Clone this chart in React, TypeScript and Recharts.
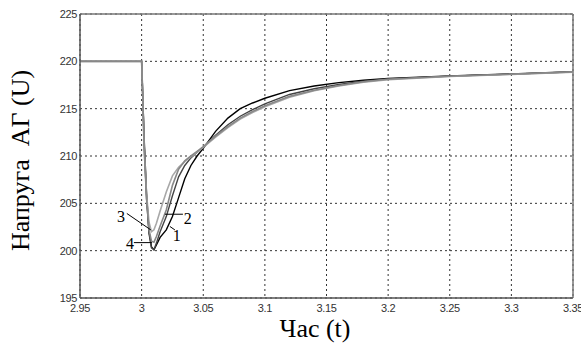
import React from 'react';
import { LineChart, Line, XAxis, YAxis, CartesianGrid, ReferenceLine, ReferenceDot } from 'recharts';

const times = [2.95, 3.0, 3.001, 3.002, 3.004, 3.006, 3.008, 3.01, 3.012, 3.015, 3.02, 3.025, 3.03, 3.035, 3.04, 3.045, 3.05, 3.06, 3.07, 3.08, 3.09, 3.1, 3.12, 3.14, 3.16, 3.18, 3.2, 3.25, 3.3, 3.35];
const curve1 = [220, 220, 216, 212, 206, 202, 200.4, 200.1, 200.6, 201.4, 202.2, 203.6, 205.6, 207.6, 209.0, 210.0, 210.8, 212.6, 214.0, 215.0, 215.6, 216.1, 216.9, 217.4, 217.75, 218.0, 218.2, 218.45, 218.66, 218.9];
const curve2 = [220, 220, 216, 211, 205.5, 202.2, 201.0, 200.9, 201.5, 202.6, 204.3, 206.9, 208.6, 209.5, 210.0, 210.5, 211.0, 212.1, 213.1, 214.0, 214.7, 215.3, 216.3, 216.95, 217.45, 217.85, 218.1, 218.42, 218.64, 218.88];
const curve3 = [220, 220, 216, 211, 206, 203, 202.0, 202.2, 202.9, 204.2, 206.2, 207.9, 208.8, 209.4, 209.9, 210.4, 210.9, 212.0, 213.0, 213.9, 214.6, 215.2, 216.2, 216.9, 217.4, 217.8, 218.05, 218.4, 218.62, 218.86];
const curve4 = [220, 220, 216, 211.5, 205.5, 201.8, 200.3, 200.1, 200.8, 202.0, 203.6, 205.8, 207.8, 209.0, 209.8, 210.4, 210.9, 212.2, 213.3, 214.2, 214.9, 215.5, 216.5, 217.1, 217.55, 217.9, 218.15, 218.44, 218.65, 218.89];

const xTicks = [2.95, 3, 3.05, 3.1, 3.15, 3.2, 3.25, 3.3, 3.35];
const yTicks = [195, 200, 205, 210, 215, 220, 225];

const curveLabels = [
  { name: '1', t: 3.0286, v: 201.66, from: [3.0229, 202.56], to: [3.027, 202.19] },
  { name: '2', t: 3.0375, v: 203.46, from: [3.0189, 203.85], to: [3.0335, 203.85] },
  { name: '3', t: 2.9833, v: 203.67, from: [2.988, 203.93], to: [3.0075, 202.19] },
  { name: '4', t: 2.9905, v: 200.82, from: [2.9937, 200.85], to: [3.0083, 200.85] },
];

const data = times.map((t, i) => ({ t, c1: curve1[i], c2: curve2[i], c3: curve3[i], c4: curve4[i] }));

const serif = '"Times New Roman", "Liberation Serif", Times, serif';
const tickStyle = { fontFamily: '"Liberation Sans", Arial, sans-serif', fontSize: 11, fill: '#333', letterSpacing: -0.4 };

export default function App() {
  return (
    <div style={{ position: 'absolute', left: 0, top: 0, width: 581, height: 353, background: '#fff' }}>
      <LineChart width={581} height={353} data={data} margin={{ top: 14, right: 8, bottom: 25, left: 20 }}>
        <CartesianGrid stroke="#333" strokeDasharray="2 3" strokeWidth={1} />
        <XAxis
          dataKey="t"
          type="number"
          domain={[2.95, 3.35]}
          ticks={xTicks}
          tickFormatter={(v: number) => String(v)}
          tick={tickStyle}
          tickLine={false}
          tickSize={2}
          axisLine={{ stroke: '#555', strokeWidth: 1.5 }}
          height={30}
          tickMargin={4}
          interval={0}
          allowDataOverflow
        />
        <YAxis
          type="number"
          domain={[195, 225]}
          ticks={yTicks}
          tick={tickStyle}
          tickLine={false}
          tickSize={2}
          axisLine={{ stroke: '#555', strokeWidth: 1.5 }}
          width={60}
          tickMargin={1}
          interval={0}
        />
        <ReferenceLine y={225} stroke="#777" strokeWidth={1.5} />
        <ReferenceLine x={3.35} stroke="#777" strokeWidth={1.5} />
        <Line dataKey="c1" stroke="#000" strokeWidth={1.4} dot={false} isAnimationActive={false} type="linear" />
        <Line dataKey="c4" stroke="#444" strokeWidth={1.4} dot={false} isAnimationActive={false} type="linear" />
        <Line dataKey="c3" stroke="#a8a8a8" strokeWidth={1.6} dot={false} isAnimationActive={false} type="linear" />
        <Line dataKey="c2" stroke="#888" strokeWidth={1.6} dot={false} isAnimationActive={false} type="linear" />
        {curveLabels.map((l) => (
          <ReferenceLine
            key={'l' + l.name}
            segment={[{ x: l.from[0], y: l.from[1] }, { x: l.to[0], y: l.to[1] }]}
            stroke="#000"
            strokeWidth={1}
          />
        ))}
        {curveLabels.map((l) => (
          <ReferenceDot
            key={'d' + l.name}
            x={l.t}
            y={l.v}
            r={0}
            stroke="none"
            fill="none"
            label={{ value: l.name, position: 'center', style: { fontFamily: serif, fontSize: 16, fill: '#000' } }}
          />
        ))}
      </LineChart>
      <svg width={581} height={353} style={{ position: 'absolute', left: 0, top: 0, pointerEvents: 'none' }}>
        <text x={29} y={160.5} transform="rotate(-90 29 160.5)" textAnchor="middle" fontFamily={serif} fontSize={26} fill="#000" style={{ whiteSpace: 'pre' }}>
          {'Напруга  АГ (U)'}
        </text>
        <text x={315} y={337} textAnchor="middle" fontFamily={serif} fontSize={26} fill="#000" style={{ whiteSpace: 'pre' }}>
          {'Час (t)'}
        </text>
      </svg>
    </div>
  );
}
